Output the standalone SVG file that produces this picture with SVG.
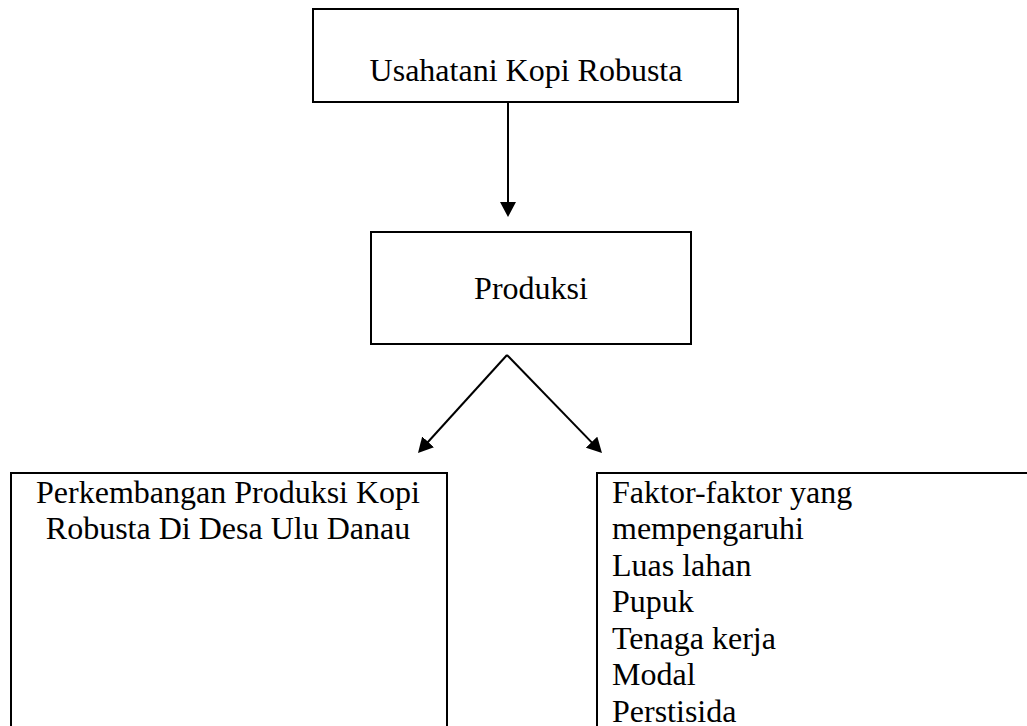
<svg xmlns="http://www.w3.org/2000/svg" width="1027" height="726" viewBox="0 0 1027 726">
<style>
.box{fill:#fff;stroke:#000;stroke-width:2}
.t{font-family:"Liberation Serif","Times New Roman",serif;font-size:32px;fill:#000}
.c{text-anchor:middle}
.edge{stroke:#000;stroke-width:2;fill:none;marker-end:url(#ah)}
</style>
<defs>
<marker id="ah" markerUnits="userSpaceOnUse" markerWidth="16" markerHeight="16" refX="11" refY="8" orient="auto">
<path d="M0,0 L15,8 L0,16 z" fill="#000"/>
</marker>
</defs>
<rect width="1027" height="726" fill="#fff"/>
<g id="usahatani">
<rect class="box" x="313" y="9" width="425" height="93"/>
<text class="t c" x="526" y="81">Usahatani Kopi Robusta</text>
</g>
<g id="produksi">
<rect class="box" x="371" y="232" width="320" height="112"/>
<text class="t c" x="531" y="299">Produksi</text>
</g>
<g id="perkembangan">
<rect class="box" x="11" y="473" width="436" height="270"/>
<text class="t c" x="228" y="503">Perkembangan Produksi Kopi</text>
<text class="t c" x="228" y="539">Robusta Di Desa Ulu Danau</text>
</g>
<g id="faktor">
<rect class="box" x="597" y="473" width="450" height="270"/>
<text class="t" x="612" y="503">Faktor-faktor yang</text>
<text class="t" x="612" y="539">mempengaruhi</text>
<text class="t" x="612" y="576">Luas lahan</text>
<text class="t" x="612" y="612">Pupuk</text>
<text class="t" x="612" y="649">Tenaga kerja</text>
<text class="t" x="612" y="685">Modal</text>
<text class="t" x="612" y="722">Perstisida</text>
</g>
<g id="connectors">
<line class="edge" x1="508" y1="103" x2="508" y2="213"/>
<line class="edge" x1="507" y1="355" x2="420.7" y2="450"/>
<line class="edge" x1="507" y1="355" x2="599.2" y2="450.1"/>
</g>
</svg>
